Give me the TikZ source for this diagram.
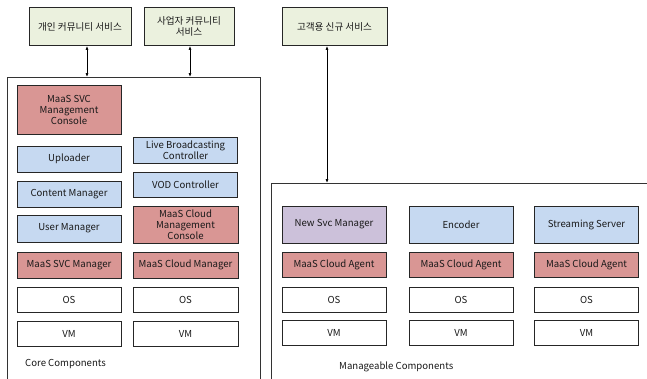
\documentclass[tikz,border=0pt]{standalone}
\usepackage{fontspec}
\setmainfont{Noto Sans CJK KR}
\usetikzlibrary{arrows.meta}
\definecolor{topg}{HTML}{EBF1DE}
\definecolor{redc}{HTML}{D99694}
\definecolor{bluec}{HTML}{C6D9F1}
\definecolor{purc}{HTML}{CCC1DA}
\begin{document}
\begin{tikzpicture}[x=1pt,y=-1pt,
  box/.style={draw=black!85, line width=0.9pt, inner sep=1pt, align=center,
    font=\fontsize{9.6}{11}\selectfont, text=black!90},
  wbox/.style={box, fill=white},
  rbox/.style={box, fill=redc},
  bbox/.style={box, fill=bluec},
  pbox/.style={box, fill=purc},
  gbox/.style={box, fill=topg},
  cont/.style={draw=black!80, line width=0.8pt},
  conn/.style={draw=black, line width=0.7pt, {Latex[length=4pt,width=3pt]}-{Latex[length=4pt,width=3pt]}},
  lbl/.style={font=\fontsize{9.6}{11}\selectfont, text=black!90, anchor=west, inner sep=0pt}
]
\useasboundingbox[fill=white] (0,0) rectangle (647,378);

% top service boxes
\node[gbox, minimum width=102pt, minimum height=38pt] (s1) at (80,26.5) {개인 커뮤니티 서비스};
\node[gbox, minimum width=90pt, minimum height=38pt] (s2) at (189,26.5) {사업자 커뮤니티\\서비스};
\node[gbox, minimum width=105pt, minimum height=38pt] (s3) at (334.5,26.5) {고객용 신규 서비스};

% containers
\coordinate (coreTL) at (7,77);
\coordinate (coreTR) at (260,77);
\coordinate (manTL) at (271,183);
\draw[cont] (7,380) -- (coreTL) -- (coreTR) -- (260,380);
\draw[cont] (271,380) -- (manTL) -- (649,183);

% connectors
\draw[conn] ([xshift=7pt]s1.south) -- ([xshift=7pt]s1.south |- coreTL);
\draw[conn] ([xshift=1pt]s2.south) -- ([xshift=1pt]s2.south |- coreTL);
\draw[conn] ([xshift=-7.5pt]s3.south) -- ([xshift=-7.5pt]s3.south |- manTL);

% core components, column 1
\node[rbox, minimum width=104pt, minimum height=49pt] (mc) at (69,109.5) {MaaS SVC\\Management\\Console};
\node[bbox, minimum width=104pt, minimum height=26pt] (up) at (69,159) {Uploader};
\node[bbox, minimum width=104pt, minimum height=26pt] (cm) at (69,194) {Content Manager};
\node[bbox, minimum width=104pt, minimum height=27pt] (um) at (69,228.5) {User Manager};
\node[rbox, minimum width=104pt, minimum height=26pt] (sm) at (69,265) {MaaS SVC Manager};
\node[wbox, minimum width=104pt, minimum height=25pt] (os1) at (69,299.5) {OS};
\node[wbox, minimum width=104pt, minimum height=25pt] (vm1) at (69,333.5) {VM};

% core components, column 2
\node[bbox, minimum width=104pt, minimum height=26pt] (lb) at (185.5,150) {Live Broadcasting\\Controller};
\node[bbox, minimum width=104pt, minimum height=25pt] (vod) at (185.5,184.5) {VOD Controller};
\node[rbox, minimum width=105pt, minimum height=37pt] (cmc) at (185.5,224.5) {MaaS Cloud\\Management\\Console};
\node[rbox, minimum width=105pt, minimum height=26pt] (cmg) at (185.5,265) {MaaS Cloud Manager};
\node[wbox, minimum width=105pt, minimum height=25pt] (os2) at (185.5,299.5) {OS};
\node[wbox, minimum width=105pt, minimum height=25pt] (vm2) at (185.5,333.5) {VM};

\node[lbl] (corelbl) at (25,364) {Core Components};

% manageable components
\node[pbox, minimum width=104pt, minimum height=37pt] (ns) at (334,224.5) {New Svc Manager};
\node[bbox, minimum width=104pt, minimum height=37pt] (enc) at (461,224.5) {Encoder};
\node[bbox, minimum width=104pt, minimum height=37pt] (ss) at (586.5,224.5) {Streaming Server};

\node[rbox, minimum width=104pt, minimum height=25pt] (ag1) at (334,264.5) {MaaS Cloud Agent};
\node[rbox, minimum width=104pt, minimum height=25pt] (ag2) at (461,264.5) {MaaS Cloud Agent};
\node[rbox, minimum width=104pt, minimum height=25pt] (ag3) at (586.5,264.5) {MaaS Cloud Agent};

\node[wbox, minimum width=104pt, minimum height=25pt] (os3) at (334,299.5) {OS};
\node[wbox, minimum width=104pt, minimum height=25pt] (os4) at (461,299.5) {OS};
\node[wbox, minimum width=104pt, minimum height=25pt] (os5) at (586.5,299.5) {OS};

\node[wbox, minimum width=104pt, minimum height=25pt] (vm3) at (334,333) {VM};
\node[wbox, minimum width=104pt, minimum height=25pt] (vm4) at (461,333) {VM};
\node[wbox, minimum width=104pt, minimum height=25pt] (vm5) at (586.5,333) {VM};

\node[lbl] (manlbl) at (339,367) {Manageable Components};
\end{tikzpicture}
\end{document}
